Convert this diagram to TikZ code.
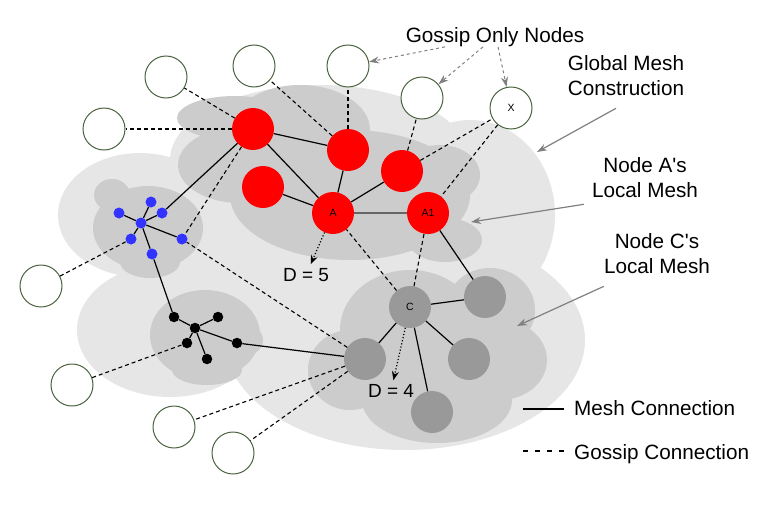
\documentclass[tikz,border=0pt]{standalone}
\usepackage{fontspec}
\setmainfont{Liberation Sans}
\usetikzlibrary{arrows.meta}
\definecolor{cloudlight}{HTML}{E6E6E6}
\definecolor{clouddark}{HTML}{CCCCCC}
\definecolor{meshgray}{HTML}{999999}
\definecolor{meshblue}{HTML}{3333FF}
\definecolor{gossipgreen}{HTML}{4B6340}
\definecolor{notegray}{HTML}{808080}
\begin{document}
\begin{tikzpicture}[x=1pt,y=-1pt]
	\tikzset{peer/.style = {shape=circle,minimum size=42pt,inner sep=0pt,font=\fontsize{10.5}{12}\selectfont}}
	\tikzset{gossiponly/.style = {peer,draw=gossipgreen,line width=1pt,fill=white}}
	\tikzset{redpeer/.style = {peer,fill=red}}
	\tikzset{graypeer/.style = {peer,fill=meshgray}}
	\tikzset{bluedot/.style = {shape=circle,inner sep=0pt,minimum size=11pt,fill=meshblue}}
	\tikzset{blackdot/.style = {shape=circle,inner sep=0pt,minimum size=10.5pt,fill=black}}
	\tikzset{mesh/.style = {draw,line width=1.2pt}}
	\tikzset{gossip/.style = {draw,line width=1.1pt,dash pattern=on 4pt off 3pt}}
	\tikzset{hop/.style = {draw,line width=1.2pt,dotted,-{Stealth[length=9pt,width=7pt]}}}
	\tikzset{note/.style = {draw=notegray,line width=1.2pt,-{Stealth[length=10pt,width=7pt]}}}
	\tikzset{notetext/.style = {font=\fontsize{20.7}{25}\selectfont,align=center,inner sep=0pt}}
	\useasboundingbox (0,0) rectangle (783,506);
	\fill[cloudlight] (140,215) ellipse [x radius=82pt,y radius=62pt];
	\fill[cloudlight] (170,330) ellipse [x radius=93pt,y radius=67pt];
	\fill[cloudlight] (320,160) ellipse [x radius=150pt,y radius=75pt];
	\fill[cloudlight] (470,215) ellipse [x radius=85pt,y radius=95pt];
	\fill[cloudlight] (405,340) ellipse [x radius=180pt,y radius=110pt];
	\fill[cloudlight] (280,260) ellipse [x radius=80pt,y radius=50pt];
	\fill[cloudlight] (215,240) ellipse [x radius=55pt,y radius=45pt];
	\fill[clouddark] (235,118) ellipse [x radius=58pt,y radius=22pt];
	\fill[clouddark] (240,165) ellipse [x radius=62pt,y radius=38pt];
	\fill[clouddark] (300,130) ellipse [x radius=70pt,y radius=45pt];
	\fill[clouddark] (350,195) ellipse [x radius=120pt,y radius=65pt];
	\fill[clouddark] (440,175) ellipse [x radius=40pt,y radius=30pt];
	\fill[clouddark] (445,240) ellipse [x radius=37pt,y radius=22pt];
	\fill[clouddark] (410,330) ellipse [x radius=70pt,y radius=60pt];
	\fill[clouddark] (350,370) ellipse [x radius=42pt,y radius=40pt];
	\fill[clouddark] (490,310) ellipse [x radius=45pt,y radius=42pt];
	\fill[clouddark] (500,360) ellipse [x radius=47pt,y radius=40pt];
	\fill[clouddark] (437,400) ellipse [x radius=75pt,y radius=43pt];
	\fill[clouddark] (148,228) ellipse [x radius=55pt,y radius=42pt];
	\fill[clouddark] (112,195) ellipse [x radius=18pt,y radius=16pt];
	\fill[clouddark] (150,262) ellipse [x radius=30pt,y radius=16pt];
	\fill[clouddark] (205,335) ellipse [x radius=55pt,y radius=45pt];
	\fill[clouddark] (238,340) ellipse [x radius=25pt,y radius=18pt];
	\fill[clouddark] (207,370) ellipse [x radius=35pt,y radius=15pt];
	\node[gossiponly] (g1) at (104,129) {};
	\node[gossiponly] (g2) at (166,77) {};
	\node[gossiponly] (g3) at (254,66) {};
	\node[gossiponly] (g4) at (348,66) {};
	\node[gossiponly] (g5) at (422,98) {};
	\node[gossiponly] (x) at (511,108) {X};
	\node[gossiponly] (g6) at (41,286) {};
	\node[gossiponly] (g7) at (72,385) {};
	\node[gossiponly] (g8) at (174,427) {};
	\node[gossiponly] (g9) at (233,453) {};
	\node[redpeer] (r1) at (253,129) {};
	\node[redpeer] (r2) at (348,150) {};
	\node[redpeer] (r3) at (263,187) {};
	\node[redpeer] (r4) at (402,171) {};
	\node[redpeer] (a) at (333,213) {A};
	\node[redpeer] (a1) at (428,213) {A1};
	\node[graypeer] (c) at (410,307) {C};
	\node[graypeer] (c1) at (485,297) {};
	\node[graypeer] (c2) at (365,359) {};
	\node[graypeer] (c3) at (469,359) {};
	\node[graypeer] (c4) at (432,412) {};
	\node[bluedot] (b0) at (141,223) {};
	\node[bluedot] (b1) at (119,213) {};
	\node[bluedot] (b2) at (151,202) {};
	\node[bluedot] (b3) at (162,213) {};
	\node[bluedot] (b4) at (131,239) {};
	\node[bluedot] (b5) at (182,239) {};
	\node[bluedot] (b6) at (152,254) {};
	\node[blackdot] (k0) at (195,328) {};
	\node[blackdot] (k1) at (174,317) {};
	\node[blackdot] (k2) at (218,317) {};
	\node[blackdot] (k3) at (187,343) {};
	\node[blackdot] (k4) at (237,343) {};
	\node[blackdot] (k5) at (207,359) {};
	\node[notetext,inner sep=4pt,font=\fontsize{19}{23}\selectfont] (d5) at (306,275) {D = 5};
	\node[notetext,inner sep=4pt,font=\fontsize{19}{23}\selectfont] (d4) at (391,391) {D = 4};
	\node[notetext] (gon) at (495,37) {Gossip Only Nodes};
	\node[notetext] (gmc) at (626,76) {Global Mesh\\Construction};
	\node[notetext] (nal) at (645,178) {Node A\textquotesingle s\\Local Mesh};
	\node[notetext] (ncl) at (657,254) {Node C\textquotesingle s\\Local Mesh};
	\node[notetext,anchor=base west] (mc) at (574,415) {Mesh Connection};
	\node[notetext,anchor=base west] (gc) at (574,459) {Gossip Connection};
	\path[mesh] (r1) edge (r2) edge (a) edge (b3);
	\path[mesh] (a) edge (r2) edge (r3) edge (r4);
	\path[mesh,draw=black!60,line width=2pt] (a) edge (a1);
	\path[mesh] (b0) edge (b1) edge (b2) edge (b3) edge (b4) edge (b5) edge (b6);
	\path[mesh] (k0) edge (k1) edge (k2) edge (k3) edge (k4) edge (k5);
	\path[mesh] (b6) edge (k1) (k4) edge (c2) (a1) edge (c1);
	\path[mesh] (c) edge (c1) edge (c2) edge (c3) edge (c4);
	\path[gossip] (r1) edge (g1) edge (g2) edge (b5);
	\path[gossip] (r2) edge (g3) edge (g4);
	\path[gossip] (r4) edge (g5) edge (x);
	\path[gossip] (x) edge (a1);
	\path[gossip] (c2) edge (b5) edge (g8) edge (g9);
	\path[gossip] (g6) edge (b4) (g7) edge (k3);
	\path[gossip] (c) edge (a) edge (a1);
	\path[hop] (a) edge (d5);
	\path[hop] (c) edge (d4);
	\draw[note,dash pattern=on 3pt off 3pt,line width=1pt] ([xshift=-50pt]gon.south) -- (g4);
	\draw[note,dash pattern=on 3pt off 3pt,line width=1pt] ([xshift=-12pt]gon.south) -- (g5);
	\draw[note,dash pattern=on 3pt off 3pt,line width=1pt] ([xshift=3pt]gon.south) -- (x);
	\coordinate (gmcend) at (537,152);
	\coordinate (nalend) at (471,222);
	\coordinate (nclend) at (517,326);
	\draw[note] ([xshift=-10pt,yshift=-12pt]gmc.south) -- (gmcend);
	\draw[note] ([xshift=-8pt,yshift=-6pt]nal.south west) -- (nalend);
	\draw[note] ([yshift=-12pt]ncl.south west) -- (nclend);
	\draw[mesh] ([xshift=-51pt,yshift=6pt]mc.base west) -- ([xshift=-10pt,yshift=6pt]mc.base west);
	\draw[draw,line width=1.2pt,dash pattern=on 5pt off 7pt] ([xshift=-51pt,yshift=8pt]gc.base west) -- ([xshift=-10pt,yshift=8pt]gc.base west);
\end{tikzpicture}
\end{document}
